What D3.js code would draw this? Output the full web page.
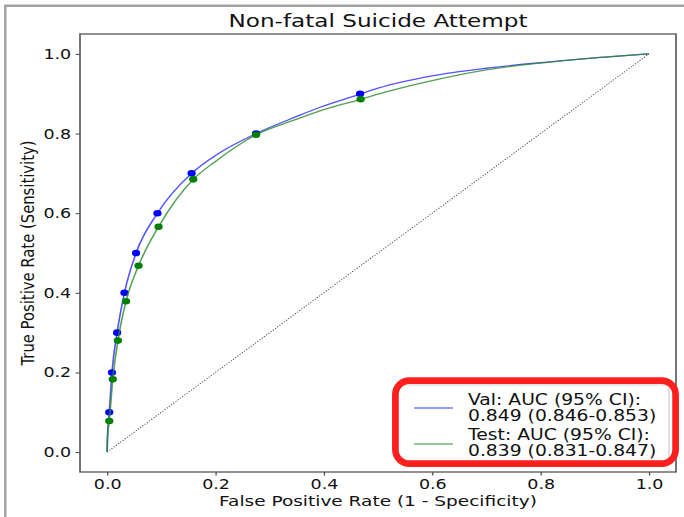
<!DOCTYPE html>
<html>
<head>
<meta charset="utf-8">
<script src="https://cdn.jsdelivr.net/npm/d3@7"></script>
<style>
  html, body { margin: 0; padding: 0; background: #fff; }
  svg { display: block; }
  text { font-family: "DejaVu Sans", sans-serif; fill: #111; }
</style>
</head>
<body>
<script>
// ROC curve data (false positive rate / true positive rate)
const valFpr = [0, 0.001, 0.004, 0.009, 0.0185, 0.032, 0.0535, 0.093, 0.156, 0.2, 0.275, 0.35, 0.393, 0.467, 0.5, 0.6, 0.7, 0.8, 0.9, 1.0];
const valTpr = [0, 0.05, 0.1, 0.2, 0.3, 0.4, 0.5, 0.6, 0.7, 0.745, 0.8, 0.843, 0.866, 0.899, 0.914, 0.945, 0.964, 0.978, 0.99, 1.0];
const testFpr = [0, 0.001, 0.004, 0.0105, 0.020, 0.035, 0.058, 0.095, 0.159, 0.2, 0.275, 0.35, 0.393, 0.468, 0.5, 0.6, 0.7, 0.8, 0.9, 1.0];
const testTpr = [0, 0.04, 0.078, 0.183, 0.280, 0.379, 0.468, 0.566, 0.685, 0.73, 0.797, 0.836, 0.857, 0.886, 0.899, 0.933, 0.960, 0.977, 0.99, 1.0];

// Operating points marked on each curve
const valPointFpr = [0.004, 0.009, 0.0185, 0.032, 0.0535, 0.093, 0.156, 0.275, 0.467];
const valPointTpr = [0.1, 0.2, 0.3, 0.4, 0.5, 0.6, 0.7, 0.8, 0.9];
const testPointFpr = [0.004, 0.0105, 0.020, 0.035, 0.058, 0.095, 0.159, 0.275, 0.468];
const testPointTpr = [0.078, 0.183, 0.280, 0.379, 0.468, 0.566, 0.685, 0.797, 0.886];

const tickValues = [0.0, 0.2, 0.4, 0.6, 0.8, 1.0];
const seriesNames = ["Val", "Test"];
const aucText = ["0.849 (0.846-0.853)", "0.839 (0.831-0.847)"];
const titleText = "Non-fatal Suicide Attempt";
const xLabel = "False Positive Rate (1 - Specificity)";
const yLabel = "True Positive Rate (Sensitivity)";

// The figure is drawn on a narrower canvas and stretched horizontally
const W = 684, H = 517, SX = 1.25;
const LW = W / SX;

const svg = d3.select("body").append("svg")
  .attr("width", W).attr("height", H)
  .attr("viewBox", `0 0 ${LW} ${H}`)
  .attr("preserveAspectRatio", "none");

// outer frame
svg.append("path")
  .attr("d", `M${LW},5.7 H${5.3 / SX} V${H}`)
  .attr("fill", "none").attr("stroke", "#a0a0a0")
  .attr("stroke-width", 2.4).attr("vector-effect", "non-scaling-stroke");

const plot = { left: 64, right: 540.8, top: 34, bottom: 472 };
const x = d3.scaleLinear().domain([-0.05, 1.05]).range([plot.left, plot.right]);
const y = d3.scaleLinear().domain([-0.05, 1.05]).range([plot.bottom, plot.top]);

// title
svg.append("text")
  .attr("x", (plot.left + plot.right) / 2).attr("y", 27.5)
  .attr("text-anchor", "middle").style("font-size", "18.5px")
  .text(titleText);

// axes
const fmt = d3.format(".1f");
const gx = svg.append("g").attr("transform", `translate(0,${plot.bottom})`)
  .call(d3.axisBottom(x).tickValues(tickValues).tickFormat(fmt).tickSize(3.5).tickPadding(3.5));
const gy = svg.append("g").attr("transform", `translate(${plot.left},0)`)
  .call(d3.axisLeft(y).tickValues(tickValues).tickFormat(fmt).tickSize(3.5).tickPadding(3.5));
[gx, gy].forEach(g => {
  g.select(".domain").remove();
  g.selectAll(".tick line").attr("stroke", "#444").attr("stroke-width", 1);
  g.selectAll(".tick text").style("font-size", "14px").style("font-family", "DejaVu Sans, sans-serif").attr("fill", "#111");
});

// axis labels
svg.append("text")
  .attr("x", (plot.left + plot.right) / 2).attr("y", 506)
  .attr("text-anchor", "middle").style("font-size", "14.8px")
  .text(xLabel);
svg.append("text")
  .attr("transform", `translate(${34 / SX},${(plot.top + plot.bottom) / 2}) rotate(-90)`)
  .attr("text-anchor", "middle").style("font-size", "14.8px")
  .text(yLabel);

// chance diagonal
svg.append("line")
  .attr("x1", x(0)).attr("y1", y(0)).attr("x2", x(1)).attr("y2", y(1))
  .attr("stroke", "#444").attr("stroke-width", 0.9)
  .attr("stroke-dasharray", "1,1.4");

const line = d3.line().x(d => x(d[0])).y(d => y(d[1])).curve(d3.curveMonotoneX);
const zip = (a, b) => a.map((v, i) => [v, b[i]]);

const series = [
  { curve: zip(valFpr, valTpr), pts: zip(valPointFpr, valPointTpr), line: "#2b2bff", dot: "#0000ff" },
  { curve: zip(testFpr, testTpr), pts: zip(testPointFpr, testPointTpr), line: "#2a8a2a", dot: "#008000" }
];

series.forEach(s => {
  svg.append("path").datum(s.curve)
    .attr("d", line).attr("fill", "none")
    .attr("stroke", s.line).attr("stroke-opacity", 0.8).attr("stroke-width", 1.3);
  svg.append("g").selectAll("circle").data(s.pts).join("circle")
    .attr("cx", d => x(d[0])).attr("cy", d => y(d[1]))
    .attr("r", 3.3).attr("fill", s.dot);
});

// plot frame
svg.append("rect")
  .attr("x", plot.left).attr("y", plot.top)
  .attr("width", plot.right - plot.left).attr("height", plot.bottom - plot.top)
  .attr("fill", "none").attr("stroke", "#555").attr("stroke-width", 1.3);

// legend
const lg = svg.append("g");
lg.append("rect")
  .attr("x", 398 / SX).attr("y", 385).attr("width", (669 - 398) / SX).attr("height", 76)
  .attr("rx", 2.5).attr("fill", "#fff").attr("fill-opacity", 0.85)
  .attr("stroke", "#cfcfcf").attr("stroke-width", 1);
const legendY = [408, 444];
const textY = [[405, 421], [440.5, 456.5]];
series.forEach((s, i) => {
  lg.append("line")
    .attr("x1", 414 / SX).attr("x2", 453 / SX)
    .attr("y1", legendY[i]).attr("y2", legendY[i])
    .attr("stroke", s.line).attr("stroke-opacity", 0.65).attr("stroke-width", 1.3);
  lg.append("text").attr("x", 468 / SX).attr("y", textY[i][0])
    .style("font-size", "15px").text(`${seriesNames[i]}: AUC (95% CI):`);
  lg.append("text").attr("x", 468 / SX).attr("y", textY[i][1])
    .style("font-size", "15px").text(aucText[i]);
});

// highlight box around the legend
svg.append("rect")
  .attr("x", 395.4 / SX).attr("y", 380.6)
  .attr("width", (675.6 - 395.4) / SX).attr("height", 83.1)
  .attr("rx", 14 / SX).attr("ry", 14)
  .attr("fill", "none").attr("stroke", "#ff1f1f")
  .attr("stroke-width", 6.7).attr("vector-effect", "non-scaling-stroke");
</script>
</body>
</html>
